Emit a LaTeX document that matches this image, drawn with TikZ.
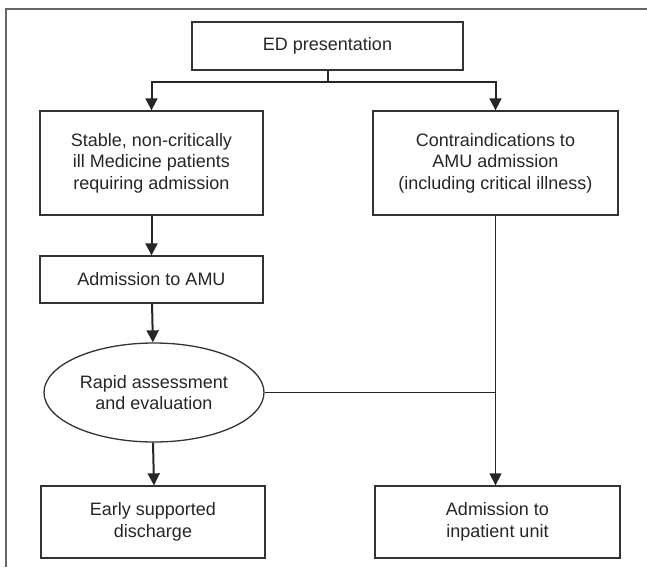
\documentclass[tikz,border=0pt]{standalone}
\usepackage{fontspec}
\setmainfont{Liberation Sans}
\usepackage{tikz}
\usetikzlibrary{arrows.meta,positioning,shapes.geometric}

\begin{document}
\begin{tikzpicture}[x=1pt,y=-1pt,
    box/.style={draw=black!80,line width=1.3pt,align=center,inner sep=0pt,
      text=black!85,font=\fontsize{18}{21.5}\selectfont},
    oval/.style={box,ellipse},
    flow/.style={draw=black!85,line width=2pt,-{Triangle[width=12pt,length=12pt]}},
    side/.style={draw=black!85,line width=1.3pt}]
    \useasboundingbox (0,0) rectangle (647,567);
    % outer frame, cut off at the right and bottom
    \draw[black!60,line width=1.5pt] (6,567) -- (6,9) -- (647,9);
    \node[box,minimum width=271pt,minimum height=48pt] (ed) at (327.5,46) {ED presentation};
    \node[box,minimum width=223pt,minimum height=104pt] (stable) at (151.5,163)
      {Stable, non-critically\\ill Medicine patients\\requiring admission};
    \node[box,minimum width=245pt,minimum height=104pt] (contra) at (495.5,163)
      {Contraindications to\\AMU admission\\(including critical illness)};
    \node[box,minimum width=223pt,minimum height=47pt] (amu) at (151.5,279.5) {Admission to AMU};
    \node[oval,minimum width=220pt,minimum height=99pt] (rapid) at (154,392.5)
      {Rapid assessment\\and evaluation};
    \node[box,minimum width=224pt,minimum height=72pt] (early) at (153,522)
      {Early supported\\discharge};
    \node[box,minimum width=245pt,minimum height=72pt] (inpat) at (497.5,522)
      {Admission to\\inpatient unit};
    % split below ED
    \coordinate (split) at (327.5,82);
    \draw[side,line width=2pt] (ed.south) -- (split);
    \draw[flow] (split) -| (stable.north);
    \draw[flow] (split) -| (contra.north);
    \draw[flow] (stable) -- (amu);
    \draw[flow] (amu) -- (rapid);
    \draw[flow] (rapid.south -| early.north) -- (early.north -| rapid.south);
    % right branch
    \draw[flow,line width=1.3pt] (contra.south) -- (contra.south |- inpat.north);
    \draw[side] (rapid.east) -- (rapid.east -| contra.south);
\end{tikzpicture}
\end{document}
